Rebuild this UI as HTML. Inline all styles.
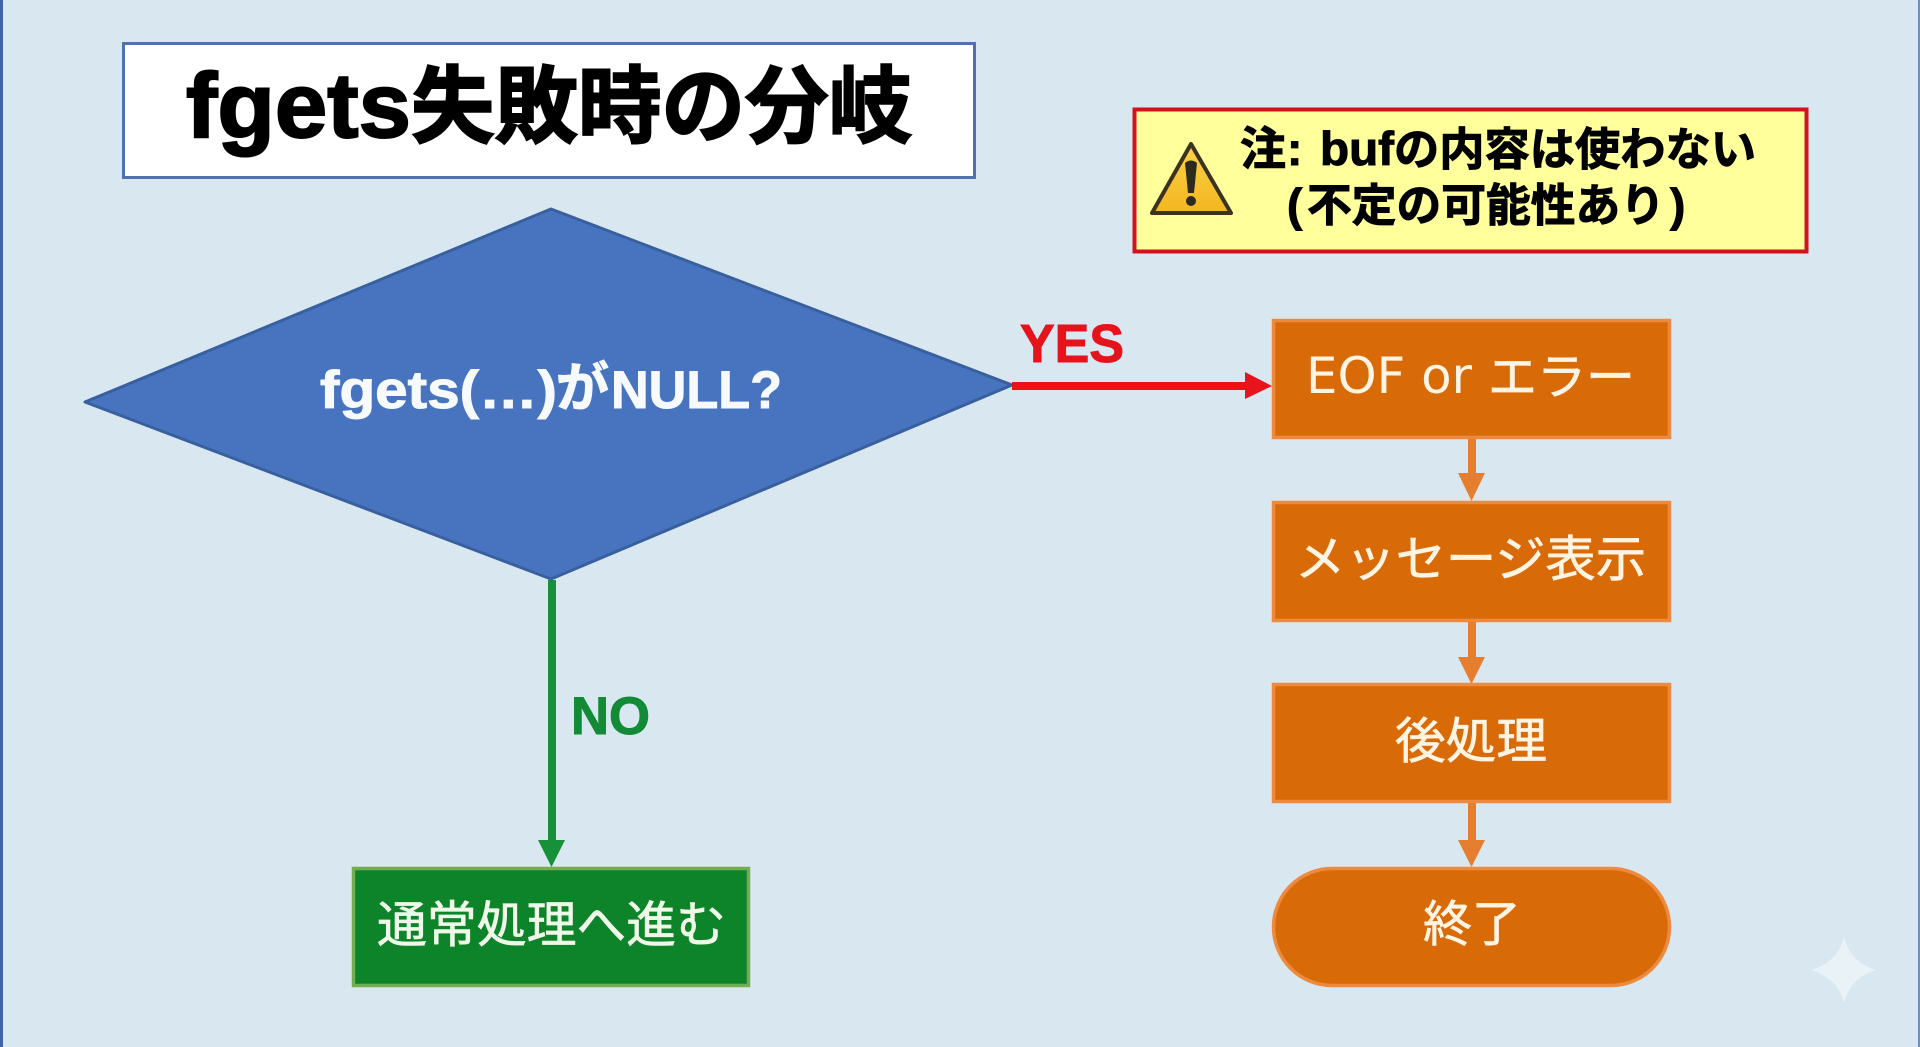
<!DOCTYPE html>
<html lang="ja">
<head>
<meta charset="utf-8">
<title>fgets失敗時の分岐</title>
<style>
html,body{margin:0;padding:0;width:1920px;height:1047px;overflow:hidden;background:#d9e7f0}
svg{display:block}
text{font-family:"Noto Sans CJK JP","Liberation Sans",sans-serif}
.l{font-family:"Liberation Sans","Noto Sans CJK JP",sans-serif;font-weight:700}
.b{font-weight:700}
.o{fill:#fff3e2;font-size:49px;stroke:#fff3e2;stroke-width:.7px}
.k{stroke:#000;stroke-width:1px}
.h{stroke:#000;stroke-width:2px}
.w{stroke:#f6fafd;stroke-width:1px}
</style>
</head>
<body>
<svg xmlns="http://www.w3.org/2000/svg" width="1920" height="1047" viewBox="0 0 1920 1047">
<defs>
<linearGradient id="tri" x1="0" y1="0" x2="0" y2="1"><stop offset="0" stop-color="#fbd24a"/><stop offset="1" stop-color="#f3b61f"/></linearGradient>
</defs>
<rect width="1920" height="1047" fill="#d9e7f0"/>
<rect x="0" y="0" width="3" height="1047" fill="#3f62a8"/>
<rect x="1918" y="0" width="2" height="1047" fill="#6f8dbd"/>

<!-- title -->
<rect x="123.500" y="43.500" width="851" height="134" fill="#fff" stroke="#4f71ad" stroke-width="3"/>
<text class="l h" x="186" y="137" font-size="92" textLength="225" lengthAdjust="spacingAndGlyphs" fill="#000">fgets</text>
<text class="b h" x="411" y="136" font-size="84" textLength="501" lengthAdjust="spacingAndGlyphs" fill="#000">失敗時の分岐</text>

<!-- note -->
<rect x="1134.500" y="109.500" width="672" height="142" fill="#ffff9c" stroke="#d4121e" stroke-width="4"/>
<path d="M1191 144 L1231 213 L1152 213 Z" fill="url(#tri)" stroke="#3b3320" stroke-width="4" stroke-linejoin="round"/>
<path d="M1185 163 Q1191 158 1197 163 L1194 193 L1188 193 Z" fill="#2d2a20"/>
<circle cx="1191" cy="201" r="5" fill="#2d2a20"/>
<text class="b k" x="1240" y="165" font-size="46" fill="#000">注</text>
<text class="l k" x="1287" y="165" font-size="46" fill="#000">:</text>
<text class="l k" x="1320" y="165" font-size="47" textLength="74" lengthAdjust="spacingAndGlyphs" fill="#000">buf</text>
<text class="b k" x="1394" y="165" font-size="45" textLength="362" lengthAdjust="spacingAndGlyphs" fill="#000">の内容は使わない</text>
<text class="l k" x="1287" y="221" font-size="46" fill="#000">(</text>
<text class="b k" x="1307" y="221" font-size="45" textLength="358" lengthAdjust="spacingAndGlyphs" fill="#000">不定の可能性あり</text>
<text class="l k" x="1670" y="221" font-size="46" fill="#000">)</text>

<!-- decision -->
<polygon points="85,402 551,209 1012,385 551,579" fill="#4874bf" stroke="#38609f" stroke-width="3" stroke-linejoin="round"/>
<text class="l w" x="320" y="408" font-size="53" textLength="237" lengthAdjust="spacingAndGlyphs" fill="#f6fafd">fgets(…)</text>
<text class="b w" x="556" y="406" font-size="53" fill="#f6fafd">が</text>
<text class="l w" x="611" y="408" font-size="53" textLength="171" lengthAdjust="spacingAndGlyphs" fill="#f6fafd">NULL?</text>

<!-- YES -->
<text class="l" x="1020" y="362" font-size="54" textLength="104" lengthAdjust="spacingAndGlyphs" fill="#e5141c" stroke="#e5141c" stroke-width="1">YES</text>
<rect x="1012" y="382" width="236" height="8" fill="#ee1218"/>
<polygon points="1245,372 1272,386 1245,399" fill="#e8141c"/>

<!-- NO -->
<rect x="548" y="580" width="8" height="262" fill="#16913a"/>
<polygon points="538,840 565,840 551.500,867" fill="#16913a"/>
<text class="l" x="571" y="734" font-size="53" textLength="79" lengthAdjust="spacingAndGlyphs" fill="#138a35" stroke="#138a35" stroke-width="1">NO</text>
<rect x="353.500" y="868.500" width="395" height="117" fill="#0d8429" stroke="#72ad52" stroke-width="3.500"/>
<text x="377" y="942" font-size="49.500" textLength="349" lengthAdjust="spacingAndGlyphs" fill="#eff8e8" stroke="#eff8e8" stroke-width=".7">通常処理へ進む</text>

<!-- right column -->
<rect x="1273.500" y="320.500" width="396" height="117" fill="#d96a08" stroke="#ec8b40" stroke-width="3.500"/>
<text x="1306" y="393" font-size="50" textLength="166" lengthAdjust="spacingAndGlyphs" fill="#fff3e2" style="font-family:'DejaVu Sans',sans-serif">EOF or</text>
<text class="o" x="1488" y="394" textLength="147" lengthAdjust="spacingAndGlyphs">エラー</text>

<rect x="1468" y="439" width="8" height="36" fill="#e67e30"/>
<polygon points="1458,473 1485,473 1471.500,501" fill="#e67e30"/>

<rect x="1273.500" y="502.500" width="396" height="118" fill="#d96a08" stroke="#ec8b40" stroke-width="3.500"/>
<text class="o" x="1295" y="576" textLength="351" lengthAdjust="spacingAndGlyphs">メッセージ表示</text>

<rect x="1468" y="622" width="8" height="37" fill="#e67e30"/>
<polygon points="1458,657 1485,657 1471.500,684" fill="#e67e30"/>

<rect x="1273.500" y="684.500" width="396" height="117" fill="#d96a08" stroke="#ec8b40" stroke-width="3.500"/>
<text class="o" x="1395" y="758" font-size="50" textLength="152" lengthAdjust="spacingAndGlyphs">後処理</text>

<rect x="1468" y="803" width="8" height="39" fill="#e67e30"/>
<polygon points="1458,840 1485,840 1471.500,867" fill="#e67e30"/>

<rect x="1273.500" y="868.500" width="396" height="117" rx="58.500" ry="58.500" fill="#d96a08" stroke="#ec8b40" stroke-width="3.500"/>
<text class="o" x="1423" y="941" textLength="98" lengthAdjust="spacingAndGlyphs">終了</text>

<!-- sparkle -->
<path d="M1844 937 Q1850 962 1876 970 Q1850 978 1844 1003 Q1838 978 1811 970 Q1838 962 1844 937 Z" fill="#e9f2f6"/>
</svg>
</body>
</html>
